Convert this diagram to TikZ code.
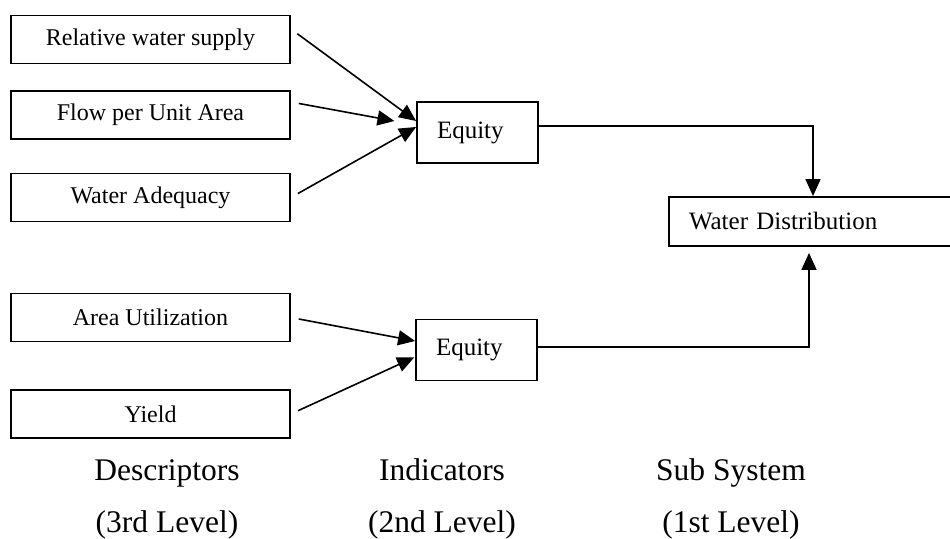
\documentclass[tikz,border=0pt]{standalone}
\usepackage{fontspec}
\setmainfont{Liberation Serif}
\usetikzlibrary{arrows.meta}
\begin{document}
\begin{tikzpicture}[x=1pt,y=-1pt,
  descbox/.style={draw, line width=1.8pt, rectangle, minimum width=279pt, minimum height=48pt, inner sep=0pt, font=\fontsize{24}{28}\selectfont},
  indbox/.style={draw, line width=1.8pt, rectangle, minimum height=61pt, inner xsep=20pt, text width=81pt, align=left, font=\fontsize{25}{29}\selectfont},
  sysbox/.style={draw, line width=1.8pt, rectangle, minimum height=49pt, inner xsep=20pt, text width=260pt, align=left, font=\fontsize{25}{29}\selectfont},
  arr/.style={line width=1.6pt, -{Triangle[length=17pt,width=15pt]}},
  lvl/.style={anchor=base, inner sep=0pt, font=\fontsize{31.5}{36}\selectfont}
]
\useasboundingbox (0,0) rectangle (950,538);
\clip (0,0) rectangle (950,538);
% descriptors
\node[descbox] (r1) at (150.5,39.5) {Relative water supply};
\node[descbox] (r2) at (150.5,115) {Flow per Unit Area};
\node[descbox] (r3) at (150.5,197.5) {Water Adequacy};
\node[descbox] (r4) at (150.5,317.5) {Area Utilization};
\node[descbox] (r5) at (150.5,414) {Yield};
% indicators
\node[indbox] (e1) at (477.5,132.5) {Equity};
\node[indbox] (e2) at (476.5,350) {Equity};
% subsystem
\node[sysbox] (wd) at (819,221.5) {Water Distribution};
% connectors
\draw[arr, shorten <=8pt] ([yshift=10.5pt]r1.east) -- ([yshift=11.5pt]e1.west);
\draw[arr, shorten <=8pt, shorten >=22pt] ([yshift=13pt]r2.east) -- ([yshift=7.5pt]e1.west);
\draw[arr, shorten <=8pt] (r3.east) -- ([yshift=5.5pt]e1.west);
\draw[arr, shorten <=8pt] (r4.east) -- ([yshift=9pt]e2.west);
\draw[arr, shorten <=8pt, shorten >=1pt] (r5.east) -- ([yshift=-7pt]e2.west);
\draw[arr] ([yshift=6.5pt]e1.east) -| ([xshift=-6pt]wd.north);
\draw[arr, shorten >=6pt] ([yshift=3pt]e2.east) -| ([xshift=-10pt]wd.south);
% level labels
\node[lvl] (d1) at (167,480) {Descriptors};
\node[lvl] (d2) at (167,532) {(3rd Level)};
\node[lvl] (i1) at (442,480) {Indicators};
\node[lvl] (i2) at (442,532) {(2nd Level)};
\node[lvl] (s1) at (731,480) {Sub System};
\node[lvl] (s2) at (731,532) {(1st Level)};
\end{tikzpicture}
\end{document}
